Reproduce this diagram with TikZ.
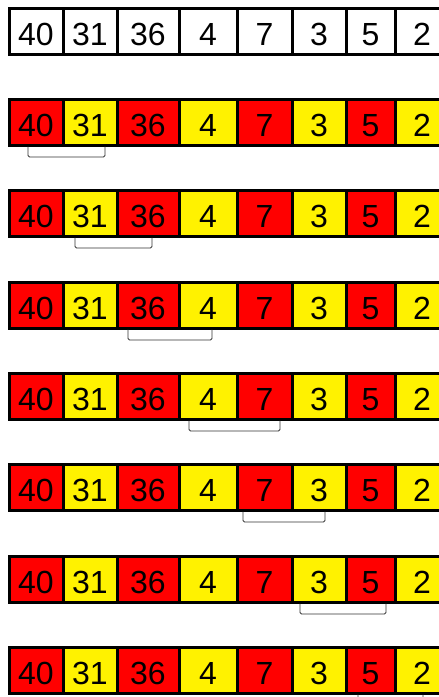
\documentclass[tikz,border=0pt]{standalone}
\usepackage{fontspec}
\setmainfont{Liberation Sans}
\tikzset{
  cell/.style={draw=black, line width=3pt, minimum height=46pt, inner sep=0pt,
    text height=28pt, text depth=0pt, font=\fontsize{32}{32}\selectfont},
  bracket/.style={draw=black!80, line width=0.9pt, rounded corners=1.5pt}
}
\begin{document}
\begin{tikzpicture}[x=1pt,y=-1pt]
\clip (0,0) rectangle (439,697);
\fill[white] (0,0) rectangle (439,697);
\foreach \r/\t in {1/8,2/99,3/190,4/282,5/373,6/464,7/556,8/647} {
  \foreach \k/\a/\b/\v in {0/9/63/40,1/63/117/31,2/117/179/36,3/179/237/4,4/237/292/7,5/292/346/3,6/346/395/5,7/395/449/2} {
    \ifnum\r=1 \def\fc{white}\else\ifodd\k\def\fc{yellow}\else\def\fc{red}\fi\fi
    \node[cell, fill=\fc, minimum width={(\b-\a)*1pt}] (c\r-\k) at ({(\a+\b)/2}, {\t+23}) {\v};
  }
}
\foreach \r/\t/\xl/\xr in {2/99/28/105,3/190/75/152,4/282/128/212,5/373/189/280,6/464/243/325,7/556/300/386,8/647/358/423} {
  \draw[bracket] (\xl,{\t+47.5}) -- (\xl,{\t+58}) -- (\xr,{\t+58}) -- (\xr,{\t+47.5});
}
\end{tikzpicture}
\end{document}
